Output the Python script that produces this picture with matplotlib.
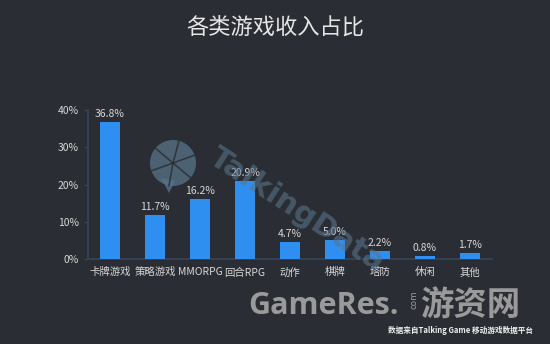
import numpy as np
import matplotlib
matplotlib.use('Agg')
from matplotlib import pyplot as plt
from matplotlib.patches import Ellipse, Polygon

plt.rcParams['font.family'] = ['Noto Sans CJK SC', 'DejaVu Sans']

'''chart data'''
categories = ['卡牌游戏', '策略游戏', 'MMORPG', '回合RPG', '动作', '棋牌', '塔防', '休闲', '其他']
shares = [36.8, 11.7, 16.2, 20.9, 4.7, 5.0, 2.2, 0.8, 1.7]
yticks = [0, 10, 20, 30, 40]

bg = '#2a2d33'
bar_color = '#2f8ff0'
text_color = '#d8d8d8'
axis_color = '#34465a'

fig = plt.figure(figsize=(5.5, 3.44), dpi=100, facecolor=bg)
ax = fig.add_axes([0.16, 0.247, 0.7345, 0.433], facecolor=bg)

x = np.arange(len(categories))
bars = ax.bar(x, shares, width=0.43, color=bar_color, zorder=3)
for xi, v in zip(x, shares):
    ax.text(xi, v + 0.8, '%.1f%%' % v, ha='center', va='bottom',
            fontsize=7.5, color=text_color, zorder=4)

ax.set_xlim(-0.49, 8.49)
ax.set_ylim(0, 40)
ax.set_yticks(yticks)
ax.set_yticklabels(['%d%%' % t for t in yticks])
ax.set_xticks(x)
ax.set_xticklabels(categories)
ax.tick_params(axis='both', colors=text_color, labelsize=7.5, length=3, color=axis_color)
ax.tick_params(axis='x', length=0, pad=6)
for s in ['top', 'right']:
    ax.spines[s].set_visible(False)
for s in ['left', 'bottom']:
    ax.spines[s].set_color(axis_color)
    ax.spines[s].set_linewidth(1.2)

'''title'''
fig.text(0.5, 0.92, '各类游戏收入占比', ha='center', va='center',
         fontsize=16, color='#e6e6e6')

'''TalkingData watermark'''
wm = '#58748a'
cx, cy, r = 173 / 550, 1 - 163 / 344, 23
fig.patches.append(Ellipse((cx, cy), 2 * r / 550, 2 * r / 344, transform=fig.transFigure,
                           facecolor=wm, edgecolor='none', alpha=0.75, zorder=1))
fig.patches.append(Polygon([(cx - 12 / 550, cy - 15 / 344), (cx - 4 / 550, cy - 30 / 344),
                            (cx + 2 / 550, cy - 18 / 344)], closed=True,
                           transform=fig.transFigure, facecolor=wm, alpha=0.75, zorder=1))
for ang in [20, 75, 140, 200, 260, 320]:
    a = np.deg2rad(ang)
    fig.add_artist(plt.Line2D([cx, cx + r * np.cos(a) / 550], [cy, cy + r * np.sin(a) / 344],
                              transform=fig.transFigure, color=bg, lw=1.2, alpha=0.8, zorder=2))
fig.text(0.54, 0.39, 'TalkingData', rotation=-33, ha='center', va='center',
         fontsize=22, fontweight='bold', color=wm, alpha=0.6, zorder=5,
         family='DejaVu Sans Condensed')

'''GameRes footer'''
fig.text(0.452, 0.11, 'GameRes.', ha='left', va='center', fontsize=22,
         color='#9a9a9a', family='Open Sans', fontweight='bold')
fig.text(0.752, 0.13, 'com', ha='center', va='center', fontsize=6.5,
         color='#9a9a9a', rotation=90)
fig.text(0.763, 0.11, '游资网', ha='left', va='center', fontsize=24,
         color='#9a9a9a', fontweight='bold')
fig.text(0.705, 0.04, '数据来自Talking Game 移动游戏数据平台', ha='left', va='center',
         fontsize=5.5, color='#f0f0f0', fontweight='bold')

fig.savefig('out.png', dpi=100, facecolor=bg)
